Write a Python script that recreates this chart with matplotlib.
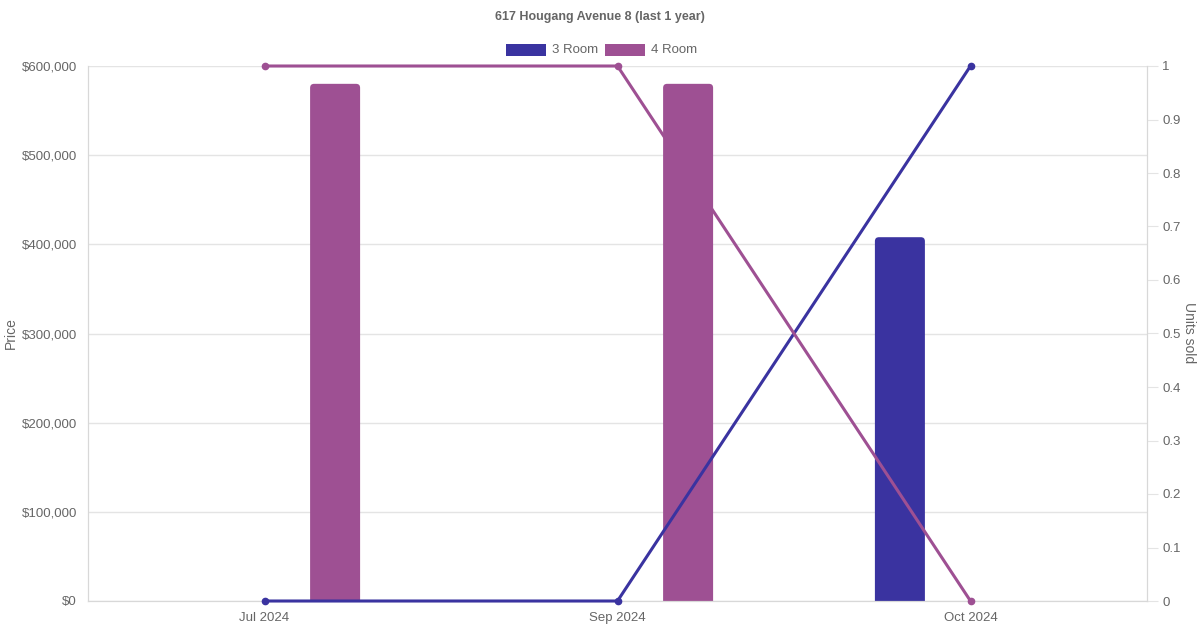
import matplotlib
matplotlib.use('Agg')
import matplotlib.pyplot as plt
from matplotlib.patches import FancyBboxPatch, Rectangle
from matplotlib.ticker import FuncFormatter, MultipleLocator

plt.rcParams['font.family'] = ['Liberation Sans', 'DejaVu Sans']

months = ['Jul 2024', 'Sep 2024', 'Oct 2024']
price_3room = [None, None, 408000]
price_4room = [580000, 580000, None]
units_3room = [0, 0, 1]
units_4room = [1, 1, 0]

c3 = '#3a33a0'
c4 = '#9e5093'
grid_c = '#e4e4e4'
text_c = '#666666'

W, H = 1200, 630
left, right, top, bottom = 88, 1147, 66, 601
fig = plt.figure(figsize=(12, 6.3), dpi=100)
ax = fig.add_axes([left / W, (H - bottom) / H, (right - left) / W, (bottom - top) / H])
ax2 = ax.twinx()

x = list(range(len(months)))
ymax = 600000
px_x = 3 / (right - left)          # data units per pixel, x
px_y = ymax / (bottom - top)       # data units per pixel, y
slot = 0.8 / 2
bw = 50 * px_x
r = 4 * px_x


def rounded_bars(axis, xs, vals, offset, color):
    for xi, v in zip(xs, vals):
        if v is None:
            continue
        x0 = xi + offset - bw / 2
        p = FancyBboxPatch((x0, -6 * px_y), bw, v + 6 * px_y,
                           boxstyle='round,pad=0,rounding_size=%f' % r,
                           mutation_aspect=px_y / px_x,
                           facecolor=color, edgecolor='none', zorder=2)
        axis.add_patch(p)
        p.set_clip_path(Rectangle((0, 0), 1, 1, transform=axis.transAxes))


rounded_bars(ax, x, price_3room, -slot / 2, c3)
rounded_bars(ax, x, price_4room, slot / 2, c4)

ax.set_xlim(-0.5, 2.5)
ax.set_ylim(0, ymax)
ax.yaxis.set_major_locator(MultipleLocator(100000))
ax.yaxis.set_major_formatter(FuncFormatter(lambda v, p: '${:,.0f}'.format(v)))
ax.set_xticks(x)
ax.set_xticklabels(months)
ax.grid(axis='y', color=grid_c, linewidth=1)
ax.set_axisbelow(True)
ax.tick_params(axis='both', length=0, colors=text_c, labelsize=9.5, pad=8)

ax2.plot(x, units_3room, color=c3, linewidth=2.2, marker='o', markersize=4.5, zorder=5, clip_on=False)
ax2.plot(x, units_4room, color=c4, linewidth=2.2, marker='o', markersize=4.5, zorder=5, clip_on=False)
ax2.set_ylim(0, 1)
ax2.yaxis.set_major_locator(MultipleLocator(0.1))
ax2.yaxis.set_major_formatter(FuncFormatter(lambda v, p: '{:g}'.format(round(v, 1))))
ax2.tick_params(axis='y', length=8, color=grid_c, labelcolor=text_c, labelsize=9.5, pad=3)

for a in (ax, ax2):
    a.spines['top'].set_visible(False)
    for s in ('left', 'right', 'bottom'):
        a.spines[s].set_color('#d8d8d8')
ax.set_zorder(1)
ax2.set_zorder(2)
ax2.patch.set_visible(False)

fig.text(11 / W, 1 - 333 / H, 'Price', rotation=90, ha='center', va='center',
         fontsize=10, color=text_c)
fig.text(1189 / W, 1 - 333 / H, 'Units sold', rotation=270, ha='center', va='center',
         fontsize=10, color=text_c)
fig.text(0.5, 1 - 17 / H, '617 Hougang Avenue 8 (last 1 year)', ha='center', va='center',
         fontsize=9, fontweight='bold', color=text_c)

# legend
legend_items = [('3 Room', c3), ('4 Room', c4)]
lx = [506, 605]
for (label, col), px in zip(legend_items, lx):
    fig.patches.append(Rectangle((px / W, 1 - 56 / H), 40 / W, 12 / H,
                                 transform=fig.transFigure,
                                 facecolor=col, edgecolor='none'))
    fig.text((px + 46) / W, 1 - 50 / H, label, ha='left', va='center',
             fontsize=9.5, color=text_c)

fig.savefig('out.png', dpi=100)
